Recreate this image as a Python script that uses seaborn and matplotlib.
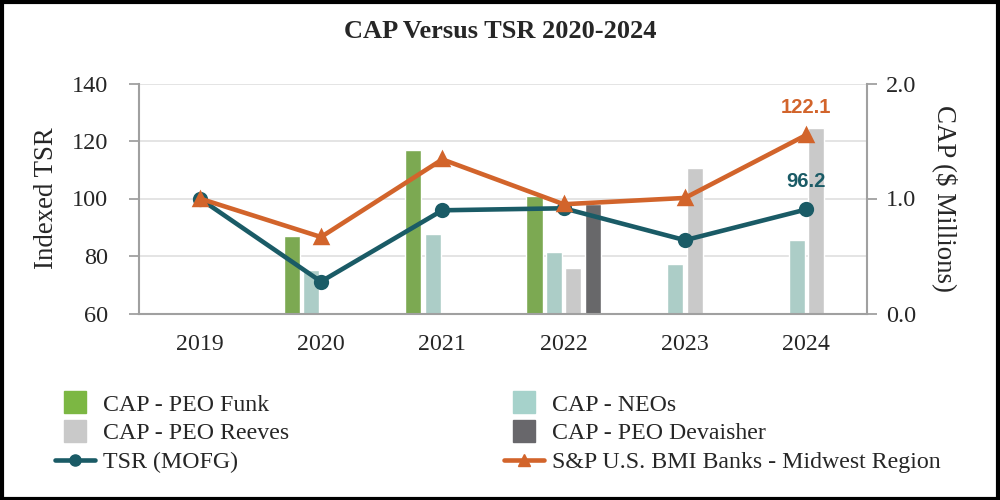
import numpy as np
import pandas as pd
import seaborn as sns
import matplotlib.pyplot as plt
from matplotlib.lines import Line2D
from matplotlib.patches import Rectangle

# chart values
years = ["2019", "2020", "2021", "2022", "2023", "2024"]
cap_funk = [np.nan, 0.675, 1.42, 1.02, np.nan, np.nan]
cap_neos = [np.nan, 0.377, 0.69, 0.533, 0.43, 0.637]
cap_reeves = [np.nan, np.nan, np.nan, 0.394, 1.264, 1.609]
cap_devaisher = [np.nan, np.nan, np.nan, 0.95, np.nan, np.nan]
tsr_mofg = [100.0, 71.1, 95.9, 96.6, 85.5, 96.2]
sp_midwest = [100.0, 86.6, 113.6, 98.0, 100.2, 122.1]

bar_names = ["CAP - PEO Funk", "CAP - NEOs", "CAP - PEO Reeves", "CAP - PEO Devaisher"]
bar_colors = ["#7CB743", "#A6D2CB", "#C9C9C9", "#68676B"]
line_names = ["TSR (MOFG)", "S&P U.S. BMI Banks - Midwest Region"]
line_colors = ["#1A5B66", "#D2642B"]

bars = pd.DataFrame({"year": years, bar_names[0]: cap_funk, bar_names[1]: cap_neos,
                     bar_names[2]: cap_reeves, bar_names[3]: cap_devaisher})
bars = bars.melt(id_vars="year", var_name="series", value_name="cap").dropna()
lines = pd.DataFrame({"year": years, line_names[0]: tsr_mofg, line_names[1]: sp_midwest})
lines = lines.melt(id_vars="year", var_name="series", value_name="tsr")

sns.set_style("white")
plt.rcParams["font.family"] = ["Liberation Serif", "DejaVu Serif"]

fig = plt.figure(figsize=(10, 5), dpi=100)
ax_bar = fig.add_axes([0.139, 0.373, 0.728, 0.460])
ax_line = ax_bar.twinx()

# bars on the CAP scale (right side)
sns.barplot(data=bars, x="year", y="cap", hue="series", order=years, hue_order=bar_names,
            palette=bar_colors, width=0.64, gap=0.17, dodge=True, legend=False, ax=ax_bar)
ax_bar.set_ylim(0, 2)
ax_bar.set_yticks([0, 1, 2])
ax_bar.set_yticks([0.5, 1.5], minor=True)
ax_bar.set_yticklabels(["0.0", "1.0", "2.0"])
ax_bar.yaxis.tick_right()
ax_bar.yaxis.set_label_position("right")
ax_bar.set_axisbelow(True)
ax_bar.yaxis.grid(True, which="both", color="#E2E2E2", lw=1.3)
ax_bar.tick_params(axis="y", which="major", length=7.5, width=1.3, color="#A0A0A0",
                   labelsize=17.5, pad=6)
ax_bar.tick_params(axis="y", which="minor", length=0)
ax_bar.tick_params(axis="x", length=0, labelsize=17.2, pad=15)
ax_bar.set_xlabel("")
ax_bar.set_ylabel("CAP ($ Millions)", fontsize=19.4, rotation=270, labelpad=30)
for side in ["top", "left"]:
    ax_bar.spines[side].set_visible(False)
for side in ["right", "bottom"]:
    ax_bar.spines[side].set_color("#A0A0A0")
    ax_bar.spines[side].set_linewidth(1.5)

# indexed TSR lines (left side)
sns.pointplot(data=lines, x="year", y="tsr", hue="series", order=years, hue_order=line_names,
              palette=line_colors, markers=["o", "^"], linestyles=["-", "-"],
              linewidth=3.3, markersize=8.5, errorbar=None, legend=False, ax=ax_line)
ax_line.set_ylim(60, 140)
ax_line.set_yticks([60, 80, 100, 120, 140])
ax_line.yaxis.tick_left()
ax_line.yaxis.set_label_position("left")
ax_line.tick_params(axis="y", length=7.5, width=1.3, color="#A0A0A0", labelsize=17.5, pad=15)
ax_line.tick_params(axis="x", length=0)
ax_line.set_xlabel("")
ax_line.set_ylabel("Indexed TSR", fontsize=19.4, labelpad=9)
for side in ["top", "right", "bottom"]:
    ax_line.spines[side].set_visible(False)
ax_line.spines["left"].set_color("#A0A0A0")
ax_line.spines["left"].set_linewidth(1.5)
ax_line.set_xlim(-0.5, len(years) - 0.5)

# value labels on the last points
for vals, col in [(sp_midwest, line_colors[1]), (tsr_mofg, line_colors[0])]:
    ax_line.annotate(f"{vals[-1]:.1f}", (len(years) - 1, vals[-1]), xytext=(0, 20),
                     textcoords="offset points", ha="center", va="center", color=col,
                     fontsize=14.5, fontweight="bold", family=["Liberation Sans", "DejaVu Sans"])

fig.suptitle("CAP Versus TSR 2020-2024", y=0.936, va="center", fontsize=19, fontweight="bold")

# legend
sq = dict(marker="s", linestyle="none", markersize=16.5)
handles = [
    Line2D([], [], color=bar_colors[0], **sq),
    Line2D([], [], color=bar_colors[2], **sq),
    Line2D([], [], color=line_colors[0], marker="o", lw=3.3, markersize=8),
    Line2D([], [], color=bar_colors[1], **sq),
    Line2D([], [], color=bar_colors[3], **sq),
    Line2D([], [], color=line_colors[1], marker="^", lw=3.3, markersize=8),
]
labels = [bar_names[0], bar_names[2], line_names[0], bar_names[1], bar_names[3], line_names[1]]
fig.legend(handles, labels, loc="upper left", bbox_to_anchor=(0.055, 0.212), ncol=2,
           frameon=False, fontsize=17.2, handlelength=1.67, handletextpad=0.33,
           labelspacing=0.29, columnspacing=9.0, borderaxespad=0, borderpad=0)

# outer border of the picture
fig.add_artist(Rectangle((0.002, 0.003), 0.996, 0.994, transform=fig.transFigure,
                         fill=False, edgecolor="black", lw=3))

fig.savefig("out.png", dpi=100)
